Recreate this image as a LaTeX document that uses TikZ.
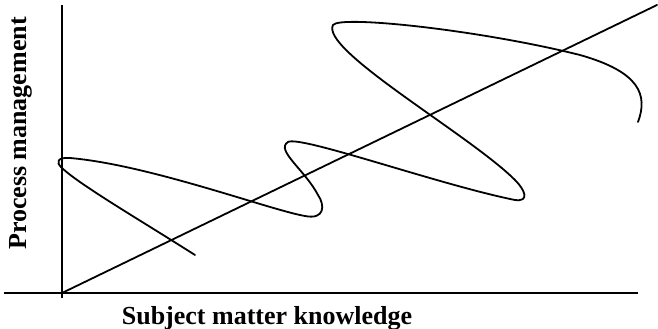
\documentclass[tikz,border=0pt]{standalone}
\usepackage{fontspec}
\setmainfont{Liberation Serif}
\begin{document}
\begin{tikzpicture}[x=1pt,y=-1pt,
  axis/.style={line width=2.2pt},
  curveline/.style={line width=1.8pt, line cap=round},
  lbl/.style={font=\bfseries\fontsize{26}{29}\selectfont, inner sep=0pt}]
\useasboundingbox (0,0) rectangle (658,329);
\coordinate (O) at (62,293);
\coordinate (ytop) at (62,5);
\coordinate (ybot) at (62,298);
\coordinate (xl) at (4,293);
\coordinate (xr) at (638,293);
\coordinate (dtop) at (657,5);
\draw[axis] (ybot) -- (ytop);
\draw[axis] (xl) -- (xr);
\draw[curveline] (O) -- (dtop);
\coordinate (cs) at (195,255);
\coordinate (ce) at (638,122);
\draw[curveline] (cs) .. controls (140,220) and (80,185) .. (62,168)
  .. controls (55,162) and (58,157) .. (70,158)
  .. controls (150,165) and (270,210) .. (305,216)
  .. controls (325,220) and (325,205) .. (318,195)
  .. controls (305,170) and (275,150) .. (288,142)
  .. controls (300,135) and (440,185) .. (515,200)
  .. controls (530,202) and (525,190) .. (515,180)
  .. controls (470,135) and (320,50) .. (333,25)
  .. controls (340,15) and (480,30) .. (580,55)
  .. controls (640,72) and (648,95) .. (ce);
\node[lbl, anchor=base] (xlab) at (267,324) {Subject matter knowledge};
\node[lbl, rotate=90, anchor=base] (ylab) at (27,133.5) {Process management};
\end{tikzpicture}
\end{document}
